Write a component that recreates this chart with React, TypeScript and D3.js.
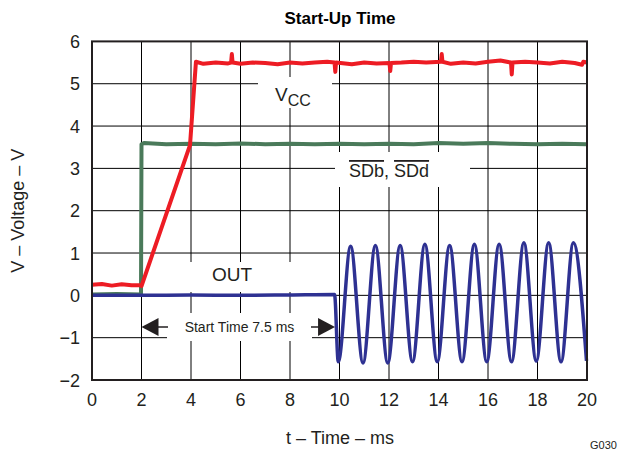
import React from "react";
import * as d3 from "d3";

const W = 630;
const H = 451;

const xTicks = [0, 2, 4, 6, 8, 10, 12, 14, 16, 18, 20];
const yTicks = [-2, -1, 0, 1, 2, 3, 4, 5, 6];

const vccTime = [0, 0.4, 0.8, 1.2, 1.6, 1.98, 2.0, 3.96, 4.2, 4.5, 5.0, 5.5, 5.62, 5.65, 5.68, 6.0, 6.5, 7.0, 7.5, 8.0, 8.5, 9.0, 9.5, 9.8, 9.83, 9.86, 10.5, 11.0, 11.5, 12.02, 12.05, 12.08, 12.5, 13.0, 13.5, 14.1, 14.13, 14.16, 14.5, 15.0, 15.5, 16.0, 16.5, 16.93, 16.96, 16.99, 17.5, 18.0, 18.5, 19.0, 19.5, 19.8, 19.85, 20];
const vccVolt = [0.25, 0.27, 0.23, 0.26, 0.24, 0.24, 0.22, 3.55, 5.52, 5.47, 5.5, 5.48, 5.5, 5.7, 5.5, 5.47, 5.5, 5.49, 5.46, 5.5, 5.48, 5.5, 5.52, 5.5, 5.28, 5.5, 5.46, 5.5, 5.48, 5.49, 5.3, 5.49, 5.5, 5.52, 5.5, 5.52, 5.7, 5.52, 5.47, 5.5, 5.48, 5.52, 5.55, 5.5, 5.22, 5.5, 5.52, 5.5, 5.48, 5.52, 5.49, 5.45, 5.52, 5.5];

const sdTime = [0, 1.0, 1.98, 2.0, 2.1, 3.0, 4.0, 5.0, 6.0, 7.0, 8.0, 9.0, 10.0, 11.0, 12.0, 13.0, 14.0, 15.0, 16.0, 17.0, 18.0, 19.0, 20];
const sdVolt = [0.02, 0.03, 0.02, 3.57, 3.6, 3.57, 3.58, 3.57, 3.59, 3.57, 3.58, 3.57, 3.58, 3.57, 3.58, 3.57, 3.6, 3.58, 3.6, 3.58, 3.57, 3.58, 3.57];

const outTime = [0, 2, 4, 6, 8, 9.8, 9.95, 10.45, 10.95, 11.45, 11.95, 12.45, 12.95, 13.45, 13.95, 14.45, 14.95, 15.45, 15.95, 16.45, 16.95, 17.45, 17.95, 18.45, 18.95, 19.45, 19.98];
const outVolt = [0.0, 0.0, 0.01, 0.0, 0.01, 0.02, -1.57, 1.16, -1.6, 1.18, -1.6, 1.18, -1.57, 1.21, -1.57, 1.18, -1.57, 1.21, -1.57, 1.21, -1.57, 1.24, -1.55, 1.24, -1.57, 1.24, -1.55];

const startT = 2;
const endT = 9.82;

const FONT = "'Liberation Sans', Arial, Helvetica, sans-serif";
const RED = "#ed1c24";
const GREEN = "#4a7a5a";
const BLUE = "#2e3192";
const INK = "#231f20";

export default function App() {
  const x = d3.scaleLinear().domain([0, 20]).range([92, 587]);
  const y = d3.scaleLinear().domain([-2, 6]).range([380, 41.4]);

  const mk = (ts: number[], vs: number[], curve: d3.CurveFactory) =>
    d3
      .line<number>()
      .x((t) => x(t))
      .y((_, i) => y(vs[i]))
      .curve(curve)(ts) as string;

  const vccPath = mk(vccTime, vccVolt, d3.curveLinear);
  const sdPath = mk(sdTime, sdVolt, d3.curveLinear);
  const outPath = mk(outTime, outVolt, d3.curveMonotoneX);

  const ay = 327;
  const xs = x(startT);
  const xe = x(endT);

  return (
    <svg width={W} height={H} style={{ position: "absolute", left: 0, top: 0, background: "#fff" }} fontFamily={FONT}>
      {/* grid */}
      {xTicks.slice(1, -1).map((t) => (
        <line key={"gx" + t} x1={x(t)} x2={x(t)} y1={y(6)} y2={y(-2)} stroke="#000" strokeWidth={1} />
      ))}
      {yTicks.slice(1, -1).map((v) => (
        <line key={"gy" + v} x1={x(0)} x2={x(20)} y1={y(v)} y2={y(v)} stroke="#000" strokeWidth={1} />
      ))}
      {/* label boxes */}
      <rect x={258} y={77} width={74} height={31} fill="#fff" />
      <rect x={335} y={152} width={135} height={35} fill="#fff" />
      <rect x={180} y={262} width={120} height={30} fill="#fff" />
      <rect x={167} y={313} width={145} height={28} fill="#fff" />

      {/* signals */}
      <path d={sdPath} fill="none" stroke={GREEN} strokeWidth={4} strokeLinejoin="round" />
      <path d={vccPath} fill="none" stroke={RED} strokeWidth={4} strokeLinejoin="round" />
      <path d={outPath} fill="none" stroke={BLUE} strokeWidth={3.5} strokeLinejoin="round" />

      {/* frame */}
      <rect x={x(0)} y={y(6)} width={x(20) - x(0)} height={y(-2) - y(6)} fill="none" stroke={INK} strokeWidth={2} />

      {/* tick labels */}
      {yTicks.map((v) => (
        <text key={"ty" + v} x={80} y={y(v) + 6.5} textAnchor="end" fontSize={18} fill={INK}>
          {v < 0 ? "\u2212" + Math.abs(v) : String(v)}
        </text>
      ))}
      {xTicks.map((t) => (
        <text key={"tx" + t} x={x(t)} y={406} textAnchor="middle" fontSize={18} fill={INK}>
          {t}
        </text>
      ))}

      {/* titles */}
      <text x={340} y={24} textAnchor="middle" fontSize={17} fontWeight="bold" fill="#000">
        Start-Up Time
      </text>
      <text x={340} y={444} textAnchor="middle" fontSize={18} fill={INK}>
        t – Time – ms
      </text>
      <text transform={`translate(24,${(y(6) + y(-2)) / 2}) rotate(-90)`} textAnchor="middle" fontSize={18} fill={INK}>
        V – Voltage – V
      </text>
      <text x={590} y={449} fontSize={11} fill={INK}>
        G030
      </text>

      {/* series labels */}
      <text x={275} y={101} fontSize={19} fill={INK}>
        V<tspan fontSize={16} dy={5}>CC</tspan>
      </text>
      <text x={349} y={177} fontSize={18} fill={INK}>
        <tspan style={{ textDecoration: "overline" }}>SDb</tspan>,{" "}
        <tspan style={{ textDecoration: "overline" }}>SDd</tspan>
      </text>
      <text x={212} y={281} fontSize={19} fill={INK}>
        OUT
      </text>

      {/* start time annotation */}
      <line x1={xs + 14} x2={168} y1={ay} y2={ay} stroke={INK} strokeWidth={1.5} />
      <path d={`M${xs},${ay} L${xs + 17},${ay - 9} L${xs + 17},${ay + 9} Z`} fill={INK} />
      <line x1={311} x2={xe - 14} y1={ay} y2={ay} stroke={INK} strokeWidth={1.5} />
      <path d={`M${xe},${ay} L${xe - 17},${ay - 9} L${xe - 17},${ay + 9} Z`} fill={INK} />
      <text x={(168 + 311) / 2} y={ay + 5} textAnchor="middle" fontSize={14} fill={INK}>
        Start Time 7.5 ms
      </text>
    </svg>
  );
}
